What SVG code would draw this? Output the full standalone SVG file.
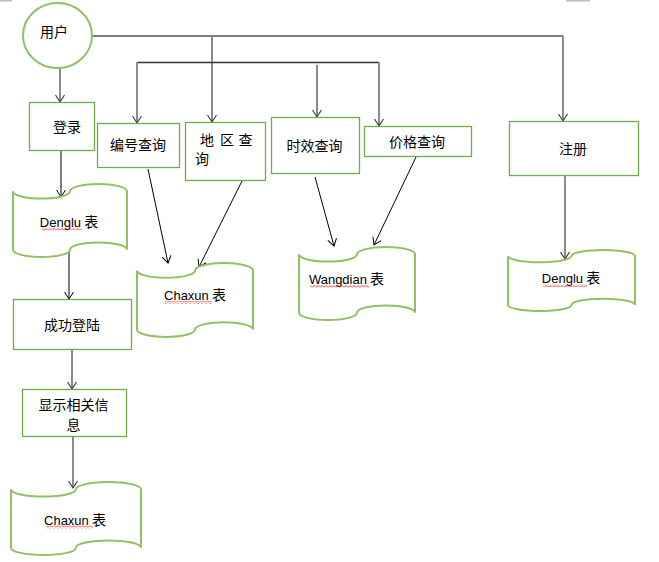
<svg xmlns="http://www.w3.org/2000/svg" width="659" height="562" viewBox="0 0 659 562">
<defs>
<style>
.box{fill:#fff;stroke:#70ad47;stroke-width:1.3}
.doc{fill:#fff;stroke:#92c163;stroke-width:2}
.cir{fill:#fff;stroke:#8dc26a;stroke-width:2}
.zh{font-family:"Noto Sans CJK SC","Noto Sans",sans-serif;font-size:14px;fill:#000;text-anchor:middle}
.lat{font-family:"Liberation Sans",Arial,sans-serif;font-size:13px}
.g{stroke:#7f7f7f;stroke-width:1.8;fill:none}
.k{stroke:#000;stroke-width:1;fill:none}
.ga{marker-end:url(#ag)}
.ka{marker-end:url(#ak)}
.sq{fill:url(#squig)}
</style>
<marker id="ag" markerUnits="userSpaceOnUse" markerWidth="12" markerHeight="12" viewBox="-9 -6 10 12" refX="0" refY="0" orient="auto">
<path d="M-7,-4.5 L0,0 L-7,4.5" fill="none" stroke="#404040" stroke-width="1.2"/>
</marker>
<marker id="ak" markerUnits="userSpaceOnUse" markerWidth="12" markerHeight="12" viewBox="-9 -6 10 12" refX="0" refY="0" orient="auto">
<path d="M-7,-4.5 L0,0 L-7,4.5" fill="none" stroke="#000" stroke-width="1"/>
</marker>
<pattern id="squig" patternUnits="userSpaceOnUse" width="4" height="3">
<path d="M0,2.5 L2,0.5 L4,2.5" fill="none" stroke="#e00000" stroke-width="0.8"/>
</pattern>
</defs>
<rect x="0" y="0" width="12" height="1.5" fill="#bfbfbf"/>
<rect x="566" y="0" width="24" height="1.5" fill="#bfbfbf"/>
<g id="connectors">
<path class="k" d="M92,36 L563,36"/>
<path class="g ga" d="M212,36 L212,122"/>
<path class="g ga" d="M563,36 L563,121"/>
<path d="M137,62.5 L379,62.5" stroke="#333" stroke-width="1.5" fill="none"/>
<path class="g ga" d="M137,62 L137,123"/>
<path class="g ga" d="M379,62 L379,126"/>
<path class="g ga" d="M317,65 L317,117"/>
<path class="g ga" d="M60,68 L60,102"/>
<path class="k ka" d="M61,150 L61,197"/>
<path class="k ka" d="M69,250 L69,299"/>
<path class="g ga" d="M72,349 L72,389"/>
<path class="g ga" d="M73,436 L73,488"/>
<path class="g ga" d="M565,175 L565,259"/>
<path class="k ka" d="M148,169 L168,263"/>
<path class="k ka" d="M242,181 L199,267"/>
<path class="k ka" d="M315,177 L334,246"/>
<path class="k ka" d="M416,157 L374,245"/>
</g>
<g id="user">
<ellipse class="cir" cx="57.5" cy="35.5" rx="34.5" ry="32.5"/>
<text class="zh" x="54" y="36.5">用户</text>
</g>
<g id="login">
<rect class="box" x="29.5" y="102.5" width="65" height="48"/>
<text class="zh" x="67" y="131.5">登录</text>
</g>
<g id="denglu1">
<path class="doc" d="M13,191.3 A28.5,7.3 0 0 0 70,191.3 A28.5,7.3 0 0 1 127,191.3 L127,249.7 A28.5,7.3 0 0 0 70,249.7 A28.5,7.3 0 0 1 13,249.7 Z"/>
<text class="zh" x="69" y="226.5"><tspan class="lat">Denglu</tspan> 表</text>
<rect class="sq" x="42" y="227.5" width="40" height="3"/>
</g>
<g id="success">
<rect class="box" x="13.5" y="299.5" width="118" height="50"/>
<text class="zh" x="72" y="330">成功登陆</text>
</g>
<g id="show">
<rect class="box" x="22.5" y="389.5" width="104" height="47"/>
<text class="zh" x="73.5" y="410">显示相关信</text>
<text class="zh" x="73.5" y="430">息</text>
</g>
<g id="chaxun2">
<path class="doc" d="M11,489.3 A32.5,7.3 0 0 0 76,489.3 A32.5,7.3 0 0 1 141,489.3 L141,547.7 A32.5,7.3 0 0 0 76,547.7 A32.5,7.3 0 0 1 11,547.7 Z"/>
<text class="zh" x="75" y="525"><tspan class="lat">Chaxun</tspan> 表</text>
<rect class="sq" x="46" y="525.5" width="47" height="3"/>
</g>
<g id="bianhao">
<rect class="box" x="97.5" y="123.5" width="82" height="44"/>
<text class="zh" x="138" y="150">编号查询</text>
</g>
<g id="diqu">
<rect class="box" x="185.5" y="122.5" width="80" height="58"/>
<text class="zh" y="145"><tspan x="207">地</tspan><tspan x="227">区</tspan><tspan x="245.5">查</tspan></text>
<text class="zh" x="202" y="164">询</text>
</g>
<g id="chaxun1">
<path class="doc" d="M137,270.4 A29,7.4 0 0 0 195,270.4 A29,7.4 0 0 1 253,270.4 L253,329.6 A29,7.4 0 0 0 195,329.6 A29,7.4 0 0 1 137,329.6 Z"/>
<text class="zh" x="195" y="300"><tspan class="lat">Chaxun</tspan> 表</text>
<rect class="sq" x="165" y="301" width="47" height="3"/>
</g>
<g id="shixiao">
<rect class="box" x="271.5" y="117.5" width="88" height="56"/>
<text class="zh" x="314.5" y="150.5">时效查询</text>
</g>
<g id="jiage">
<rect class="box" x="364.5" y="126.5" width="107" height="30"/>
<text class="zh" x="417" y="147">价格查询</text>
</g>
<g id="wangdian">
<path class="doc" d="M299,254.3 A29,7.3 0 0 0 357,254.3 A29,7.3 0 0 1 415,254.3 L415,312.7 A29,7.3 0 0 0 357,312.7 A29,7.3 0 0 1 299,312.7 Z"/>
<text class="zh" x="346.5" y="284"><tspan class="lat">Wangdian</tspan> 表</text>
<rect class="sq" x="310" y="285" width="59" height="3"/>
</g>
<g id="zhuce">
<rect class="box" x="509.5" y="121.5" width="129" height="54"/>
<text class="zh" x="573" y="154">注册</text>
</g>
<g id="denglu2">
<path class="doc" d="M508,256.1 A31.75,6.1 0 0 0 571.5,256.1 A31.75,6.1 0 0 1 635,256.1 L635,304.9 A31.75,6.1 0 0 0 571.5,304.9 A31.75,6.1 0 0 1 508,304.9 Z"/>
<text class="zh" x="571" y="283"><tspan class="lat">Denglu</tspan> 表</text>
<rect class="sq" x="543" y="284" width="44" height="3"/>
</g>
</svg>
